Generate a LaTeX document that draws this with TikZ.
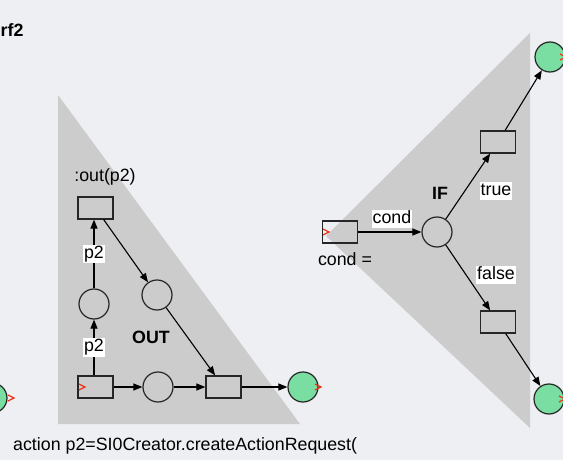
\documentclass[tikz,border=0pt]{standalone}
\usepackage{fontspec}
\setmainfont{Liberation Sans}
\usetikzlibrary{arrows.meta}
\definecolor{bgc}{RGB}{238,239,242}
\definecolor{zone}{RGB}{204,204,204}
\definecolor{token}{RGB}{122,222,162}
\definecolor{mark}{RGB}{240,50,20}
\tikzset{
  every node/.style={font=\fontsize{17.8}{20}\selectfont},
  trans/.style={draw=black!85, line width=1.2pt, minimum width=35pt, minimum height=22pt, inner sep=0pt},
  place/.style={circle, draw=black!85, line width=1.2pt, minimum size=30pt, inner sep=0pt},
  endplace/.style={place, fill=token},
  arc/.style={draw=black, line width=1.1pt, -{Triangle[length=9pt,width=7pt]}},
  lab/.style={fill=white, inner xsep=1pt, inner ysep=0pt, text height=13.5pt, text depth=5pt},
  plain/.style={inner sep=0pt},
  bold/.style={font=\fontsize{17.8}{20}\selectfont\bfseries, inner sep=0pt},
  chev/.style={draw=mark, line width=1.3pt}
}
\begin{document}
\begin{tikzpicture}[x=1pt,y=-1pt]
\useasboundingbox (0,0) rectangle (563,460);
\fill[bgc] (0,0) rectangle (563,460);

% shaded regions of the two constructs
\fill[zone] (58,95) -- (58,424) -- (300,424) -- cycle;
\fill[zone] (326,236) -- (530,33) -- (530,428) -- cycle;

% OUT construct
\node[endplace] (gin) at (-8,398) {};
\node[trans] (tin) at (95.5,387) {};
\node[place] (pmid) at (158,387) {};
\node[trans] (tjoin) at (223.5,387) {};
\node[endplace] (gout) at (303,387) {};
\node[place] (pleft) at (94,304) {};
\node[place] (pright) at (157,295) {};
\node[trans] (ttop) at (95.5,208) {};

\node[plain] (outlab) at (105,177) {:out(p2)};
\node[bold] (outname) at (151,337) {OUT};

\draw[arc] (tin) -- (pmid);
\draw[arc] (pmid) -- (tjoin);
\draw[arc] (tjoin) -- (gout);
\draw[arc] (tin.north -| pleft) -- node[lab] (p2a) {p2} (pleft);
\draw[arc] (pleft) -- node[lab] (p2b) {p2} (ttop.south -| pleft);
\draw[arc] (ttop) -- (pright);
\draw[arc] (pright) -- (tjoin);

% IF construct
\node[trans] (tcond) at (340,232) {};
\node[plain] (condeq) at (345,259) {cond =};
\node[place] (pif) at (437,232) {};
\node[bold] (ifname) at (440,193) {IF};
\node[trans] (ttrue) at (498,142) {};
\node[trans] (tfalse) at (498,322) {};
\node[endplace] (gtrue) at (550,57) {};
\node[endplace] (gfalse) at (549,399) {};

\draw[arc] (tcond) -- (pif);
\node[lab] (condlab) at (392,219) {cond};
\draw[arc] (pif) -- (ttrue);
\node[lab] (truelab) at (496,191) {true};
\draw[arc] (ttrue) -- (gtrue);
\draw[arc] (pif) -- (tfalse);
\node[lab] (falselab) at (496,275) {false};
\draw[arc] (tfalse) -- (gfalse);

% entry and exit markers
\draw[chev] (8,395) -- (14,398) -- (8,401);
\draw[chev] (79,384) -- (85,387) -- (79,390);
\draw[chev] (315,384) -- (321,387) -- (315,390);
\draw[chev] (323,229) -- (329,232) -- (323,235);
\draw[chev] (560,54) -- (566,57) -- (560,60);
\draw[chev] (559,396) -- (565,399) -- (559,402);

% titles and action text
\node[bold, anchor=west] (title) at (0.5,30) {rf2};
\node[plain, anchor=west] (action) at (13,446) {action p2=SI0Creator.createActionRequest(};
\end{tikzpicture}
\end{document}
